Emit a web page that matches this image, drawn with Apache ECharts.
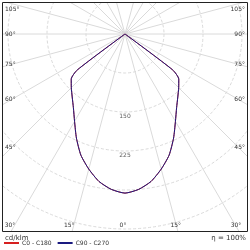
<!DOCTYPE html>
<html><head><meta charset="utf-8">
<script src="https://cdn.jsdelivr.net/npm/echarts@6/dist/echarts.min.js"></script>
<style>html,body{margin:0;padding:0;background:#fff}#c{width:250px;height:250px}</style>
</head><body><div id="c"></div>
<script>
// gamma angles (deg) and luminous intensity (cd/klm)
const gammaDeg    = [0, 5, 10, 15, 20, 25, 30, 35, 40, 45, 50, 53, 55, 60, 90, 120, 150, 180];
const intensityC0 = [306, 300, 288, 269, 248, 221, 194, 173, 158, 146, 135, 115, 0, 0, 0, 0, 0, 0];
const intensityC90= [306, 300, 288, 269, 248, 221, 194, 173, 158, 146, 135, 115, 0, 0, 0, 0, 0, 0];
const seriesNames = ['C0 - C180', 'C90 - C270'];
const ringLabels = [150, 225];
const rayAngles = [15, 30, 45, 60, 75, 90, 105, 120, 135, 150, 165, 195, 210, 225, 240, 255, 270, 285, 300, 315, 330, 345];
const leftLabels = [105, 90, 75, 60, 45];
const bottomLeftLabels = [30, 15];
const bottomRightLabels = [0, 15, 30];
const rightLabels = [45, 60, 75, 90, 105];
const unitLabel = 'cd/klm';
const effLabel = 'η = 100%';

const cx = 125, cy = 34, L = 3, R = 247, T = 3, B = 231;
const RMAX = 600;
const FONT = 'DejaVu Sans';
const gridColor = '#dadada';

function curve(vals) {
  const d = [];
  for (let i = gammaDeg.length - 1; i >= 0; i--) d.push([vals[i], gammaDeg[i]]);
  for (let i = 1; i < gammaDeg.length; i++) d.push([vals[i], 360 - gammaDeg[i]]);
  return d;
}

const rad = g => g * Math.PI / 180;
const txt = (x, y, s, align) => ({
  type: 'text', z: 120, x: x, y: y,
  style: { text: s, fill: '#333', font: '6px "' + FONT + '"', align: align, verticalAlign: 'middle' }
});
const graphics = [];
[[0,0,250,T],[0,0,L,250],[R,0,250-R,250],[0,B,250,250-B]].forEach(r => graphics.push({
  type: 'rect', z: 100, shape: {x:r[0], y:r[1], width:r[2], height:r[3]}, style: {fill:'#fff'}
}));
graphics.push({ type: 'rect', z: 110, shape: {x: L - 0.5, y: T - 0.5, width: R - L + 1, height: B - T + 1},
  style: { fill: 'none', stroke: '#222', lineWidth: 1 } });
leftLabels.forEach(g => {
  const t = (cx - L) / Math.sin(rad(g));
  const y = Math.max(9, cy + (t * Math.cos(rad(g))) * 0.93);
  graphics.push(txt(5, y, g + '°', 'left'));
});
rightLabels.forEach(g => {
  const t = (R - cx) / Math.sin(rad(g));
  const y = Math.max(9, cy + (t * Math.cos(rad(g))) * 0.93);
  graphics.push(txt(245, y, g + '°', 'right'));
});
bottomLeftLabels.forEach(g => {
  const t = (B - cy) / Math.cos(rad(g));
  const x = Math.max(10, cx - t * Math.sin(rad(g)) - 3);
  graphics.push(txt(x, 225, g + '°', 'center'));
});
bottomRightLabels.forEach(g => {
  const t = (B - cy) / Math.cos(rad(g));
  const x = Math.min(236, cx + t * Math.sin(rad(g)) - 2);
  graphics.push(txt(x, 225, g + '°', 'center'));
});
graphics.push({ type: 'text', z: 120, x: 5, y: 238, style: { text: unitLabel, fill: '#333', font: '7px "' + FONT + '"', align: 'left', verticalAlign: 'middle' } });
graphics.push({ type: 'text', z: 120, x: 246, y: 238, style: { text: effLabel, fill: '#333', font: '7px "' + FONT + '"', align: 'right', verticalAlign: 'middle' } });

const raySeries = rayAngles.map(a => ({
  type: 'line', coordinateSystem: 'polar', silent: true, symbol: 'none', z: 1,
  data: [[0, a], [RMAX, a]], lineStyle: { color: gridColor, width: 1 }
}));

const chart = echarts.init(document.getElementById('c'), null, { renderer: 'canvas' });
chart.setOption({
  animation: false,
  backgroundColor: '#fff',
  polar: { center: [cx, cy], radius: 312 },
  angleAxis: {
    type: 'value', min: 0, max: 360, interval: 15, startAngle: 270, clockwise: true,
    axisLine: { show: false }, axisTick: { show: false }, axisLabel: { show: false },
    splitLine: { show: false }
  },
  radiusAxis: {
    type: 'value', min: 0, max: RMAX, interval: 75,
    axisLine: { show: false }, axisTick: { show: false }, axisLabel: { show: false },
    splitLine: { show: true, lineStyle: { color: gridColor, type: [3, 2], width: 1 } }
  },
  legend: {
    z: 130, left: 4, top: 240, itemWidth: 15, itemHeight: 2, itemGap: 6, icon: 'rect',
    textStyle: { fontSize: 6, fontFamily: FONT, color: '#333', padding: [0, 0, 0, -2] },
    padding: 0,
    data: seriesNames
  },
  series: raySeries.concat([
    { name: seriesNames[0], type: 'line', coordinateSystem: 'polar', data: curve(intensityC0),
      showSymbol: false, symbol: 'none', smooth: 0.2, color: '#d62020', lineStyle: { width: 1, color: '#d62020' }, z: 3 },
    { name: seriesNames[1], type: 'line', coordinateSystem: 'polar', data: curve(intensityC90),
      showSymbol: false, symbol: 'none', smooth: 0.2, color: '#1a1a80', lineStyle: { width: 1, color: '#1a1a80' }, z: 4 },
    { type: 'scatter', coordinateSystem: 'polar', symbolSize: 0, silent: true, z: 5,
      data: ringLabels.map(v => [v, 0]),
      label: { show: true, position: 'bottom', distance: 1, fontSize: 6, fontFamily: FONT, color: '#333',
        formatter: p => String(p.value[0]) } }
  ]),
  graphic: graphics
});
</script></body></html>
